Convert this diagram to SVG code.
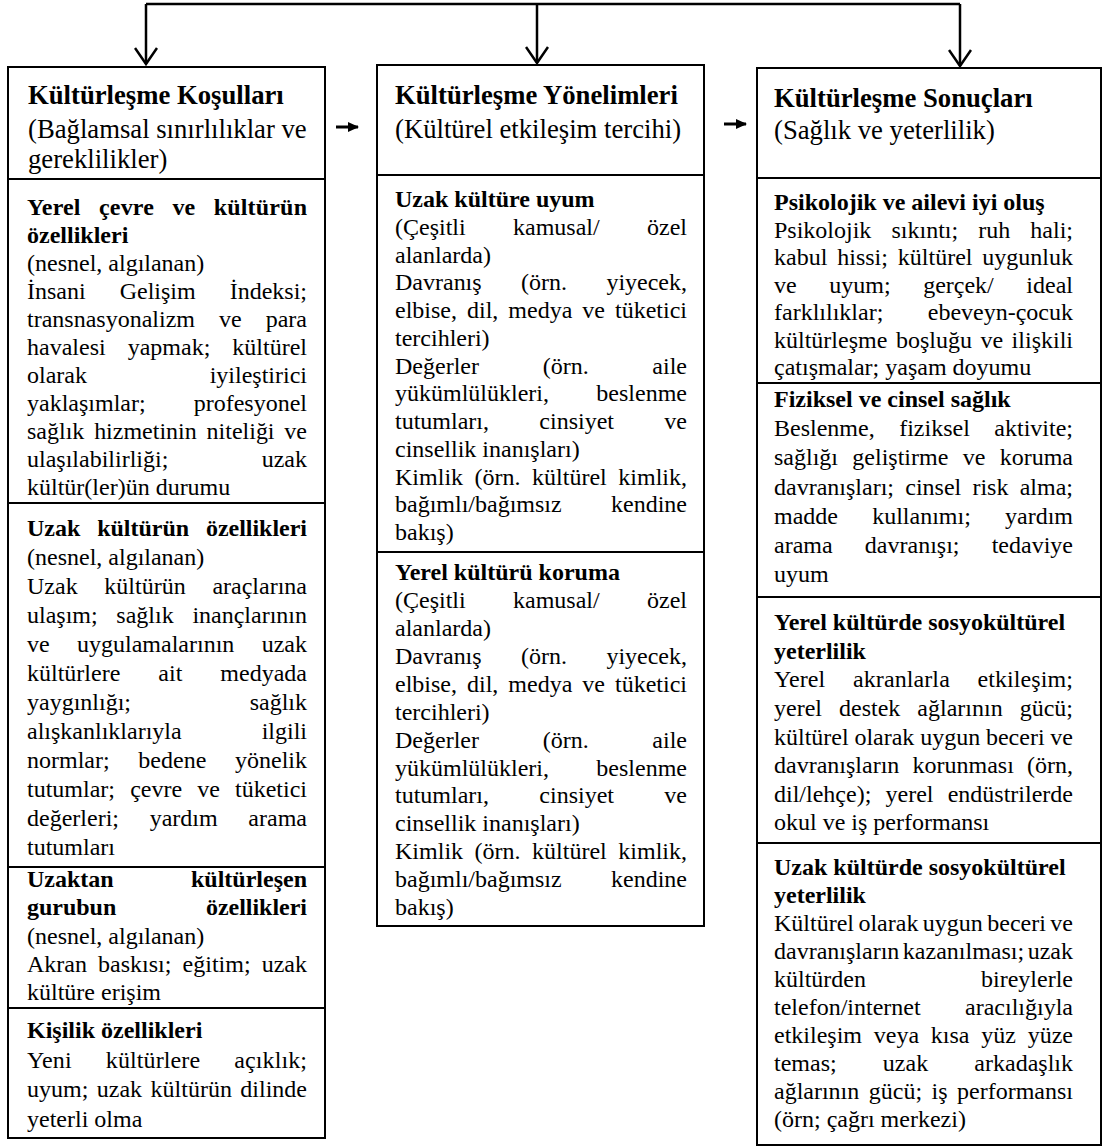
<svg xmlns="http://www.w3.org/2000/svg" width="1105" height="1147" viewBox="0 0 1105 1147">
<style>
text{font-family:"Liberation Serif","Times New Roman",serif;font-size:24px;fill:#000}
.b{font-weight:bold}
.h{font-size:26.7px}
.box{fill:#fff;stroke:#000;stroke-width:2}
.conn{fill:none;stroke:#000;stroke-width:2.5}
.thin{fill:none;stroke:#000;stroke-width:3}
</style>
<defs>
<marker id="vhead" markerUnits="userSpaceOnUse" viewBox="0 0 20 24" refX="17" refY="12" markerWidth="20" markerHeight="24" orient="auto">
<path d="M1,1 L17,12 L1,23" fill="none" stroke="#000" stroke-width="2.5"/>
</marker>
<marker id="fhead" markerUnits="userSpaceOnUse" viewBox="0 0 11 10" refX="10" refY="5" markerWidth="11" markerHeight="10" orient="auto">
<path d="M0,0 L11,5 L0,10 z" fill="#000"/>
</marker>
</defs>
<rect width="1105" height="1147" fill="#fff"/>

<g id="connectors">
<path class="conn" d="M146,4 L960,4"/>
<path class="conn" d="M146,4 L146,64" marker-end="url(#vhead)"/>
<path class="conn" d="M537,4 L537,63" marker-end="url(#vhead)"/>
<path class="conn" d="M960,4 L960,66" marker-end="url(#vhead)"/>
<path class="thin" d="M336,127 L358,127" marker-end="url(#fhead)"/>
<path class="thin" d="M724,124 L746,124" marker-end="url(#fhead)"/>
</g>

<g id="kosullar">
<g id="kosullar-header">
<rect class="box" x="8" y="67" width="317" height="112"/>
<text class="b h" x="28" y="104">Kültürleşme Koşulları</text>
<text class="h" x="28" y="138">(Bağlamsal sınırlılıklar ve</text>
<text class="h" x="28" y="168">gereklilikler)</text>
</g>
<g id="yerel-cevre">
<rect class="box" x="8" y="179" width="317" height="324"/>
<text class="b" x="27" y="215" word-spacing="12.2" textLength="280" lengthAdjust="spacing">Yerel çevre ve kültürün</text>
<text class="b" x="27" y="243">özellikleri</text>
<text x="27" y="271">(nesnel, algılanan)</text>
<text x="27" y="299" word-spacing="28" textLength="280" lengthAdjust="spacing">İnsani Gelişim İndeksi;</text>
<text x="27" y="327" word-spacing="18" textLength="280" lengthAdjust="spacing">transnasyonalizm ve para</text>
<text x="27" y="355" word-spacing="16" textLength="280" lengthAdjust="spacing">havalesi yapmak; kültürel</text>
<text x="27" y="383" word-spacing="116.7" textLength="280" lengthAdjust="spacing">olarak iyileştirici</text>
<text x="27" y="411" word-spacing="42" textLength="280" lengthAdjust="spacing">yaklaşımlar; profesyonel</text>
<text x="27" y="439" word-spacing="3.8" textLength="280" lengthAdjust="spacing">sağlık hizmetinin niteliği ve</text>
<text x="27" y="467" word-spacing="87.3" textLength="280" lengthAdjust="spacing">ulaşılabilirliği; uzak</text>
<text x="27" y="495">kültür(ler)ün durumu</text>
</g>
<g id="uzak-kultur">
<rect class="box" x="8" y="503" width="317" height="364"/>
<text class="b" x="27" y="536" word-spacing="10.9" textLength="280" lengthAdjust="spacing">Uzak kültürün özellikleri</text>
<text x="27" y="565">(nesnel, algılanan)</text>
<text x="27" y="594" word-spacing="20.7" textLength="280" lengthAdjust="spacing">Uzak kültürün araçlarına</text>
<text x="27" y="623" word-spacing="12.7" textLength="280" lengthAdjust="spacing">ulaşım; sağlık inançlarının</text>
<text x="27" y="652" word-spacing="21.4" textLength="280" lengthAdjust="spacing">ve uygulamalarının uzak</text>
<text x="27" y="681" word-spacing="32" textLength="280" lengthAdjust="spacing">kültürlere ait medyada</text>
<text x="27" y="710" word-spacing="112.6" textLength="280" lengthAdjust="spacing">yaygınlığı; sağlık</text>
<text x="27" y="739" word-spacing="74" textLength="280" lengthAdjust="spacing">alışkanlıklarıyla ilgili</text>
<text x="27" y="768" word-spacing="22.7" textLength="280" lengthAdjust="spacing">normlar; bedene yönelik</text>
<text x="27" y="797" word-spacing="9.1" textLength="280" lengthAdjust="spacing">tutumlar; çevre ve tüketici</text>
<text x="27" y="826" word-spacing="24.7" textLength="280" lengthAdjust="spacing">değerleri; yardım arama</text>
<text x="27" y="855">tutumları</text>
</g>
<g id="uzaktan-grup">
<rect class="box" x="8" y="867" width="317" height="141"/>
<text class="b" x="27" y="887" word-spacing="71.3" textLength="280" lengthAdjust="spacing">Uzaktan kültürleşen</text>
<text class="b" x="27" y="915" word-spacing="83.8" textLength="280" lengthAdjust="spacing">gurubun özellikleri</text>
<text x="27" y="944">(nesnel, algılanan)</text>
<text x="27" y="972" word-spacing="5.1" textLength="280" lengthAdjust="spacing">Akran baskısı; eğitim; uzak</text>
<text x="27" y="1000">kültüre erişim</text>
</g>
<g id="kisilik">
<rect class="box" x="8" y="1008" width="317" height="130"/>
<text class="b" x="27" y="1038">Kişilik özellikleri</text>
<text x="27" y="1068" word-spacing="28" textLength="280" lengthAdjust="spacing">Yeni kültürlere açıklık;</text>
<text x="27" y="1097" word-spacing="2.4" textLength="280" lengthAdjust="spacing">uyum; uzak kültürün dilinde</text>
<text x="27" y="1127">yeterli olma</text>
</g>
</g>

<g id="yonelimler">
<g id="yonelimler-header">
<rect class="box" x="377" y="65" width="327" height="110"/>
<text class="b h" x="395" y="104">Kültürleşme Yönelimleri</text>
<text class="h" x="395" y="138">(Kültürel etkileşim tercihi)</text>
</g>
<g id="uzak-uyum">
<rect class="box" x="377" y="175" width="327" height="377"/>
<text class="b" x="395" y="207">Uzak kültüre uyum</text>
<text x="395" y="235" word-spacing="41.3" textLength="292" lengthAdjust="spacing">(Çeşitli kamusal/ özel</text>
<text x="395" y="262.5">alanlarda)</text>
<text x="395" y="290" word-spacing="33.4" textLength="292" lengthAdjust="spacing">Davranış (örn. yiyecek,</text>
<text x="395" y="318" word-spacing="4" textLength="292" lengthAdjust="spacing">elbise, dil, medya ve tüketici</text>
<text x="395" y="346">tercihleri)</text>
<text x="395" y="373.5" word-spacing="57.7" textLength="292" lengthAdjust="spacing">Değerler (örn. aile</text>
<text x="395" y="401" word-spacing="41.3" textLength="292" lengthAdjust="spacing">yükümlülükleri, beslenme</text>
<text x="395" y="429" word-spacing="44.3" textLength="292" lengthAdjust="spacing">tutumları, cinsiyet ve</text>
<text x="395" y="457">cinsellik inanışları)</text>
<text x="395" y="484.5" word-spacing="5.5" textLength="292" lengthAdjust="spacing">Kimlik (örn. kültürel kimlik,</text>
<text x="395" y="512" word-spacing="43.3" textLength="292" lengthAdjust="spacing">bağımlı/bağımsız kendine</text>
<text x="395" y="540">bakış)</text>
</g>
<g id="yerel-koruma">
<rect class="box" x="377" y="552" width="327" height="374"/>
<text class="b" x="395" y="580">Yerel kültürü koruma</text>
<text x="395" y="608" word-spacing="41.3" textLength="292" lengthAdjust="spacing">(Çeşitli kamusal/ özel</text>
<text x="395" y="636">alanlarda)</text>
<text x="395" y="663.5" word-spacing="33.4" textLength="292" lengthAdjust="spacing">Davranış (örn. yiyecek,</text>
<text x="395" y="691.5" word-spacing="4" textLength="292" lengthAdjust="spacing">elbise, dil, medya ve tüketici</text>
<text x="395" y="719.5">tercihleri)</text>
<text x="395" y="747.5" word-spacing="57.7" textLength="292" lengthAdjust="spacing">Değerler (örn. aile</text>
<text x="395" y="775.5" word-spacing="41.3" textLength="292" lengthAdjust="spacing">yükümlülükleri, beslenme</text>
<text x="395" y="803" word-spacing="44.3" textLength="292" lengthAdjust="spacing">tutumları, cinsiyet ve</text>
<text x="395" y="831">cinsellik inanışları)</text>
<text x="395" y="859" word-spacing="5.5" textLength="292" lengthAdjust="spacing">Kimlik (örn. kültürel kimlik,</text>
<text x="395" y="887" word-spacing="43.3" textLength="292" lengthAdjust="spacing">bağımlı/bağımsız kendine</text>
<text x="395" y="915">bakış)</text>
</g>
</g>

<g id="sonuclar">
<g id="sonuclar-header">
<rect class="box" x="757" y="68" width="344" height="110"/>
<text class="b h" x="774" y="107">Kültürleşme Sonuçları</text>
<text class="h" x="774" y="139">(Sağlık ve yeterlilik)</text>
</g>
<g id="psikolojik">
<rect class="box" x="757" y="178" width="344" height="205"/>
<text class="b" x="774" y="210">Psikolojik ve ailevi iyi oluş</text>
<text x="774" y="237.5" word-spacing="14.1" textLength="299" lengthAdjust="spacing">Psikolojik sıkıntı; ruh hali;</text>
<text x="774" y="265" word-spacing="3.9" textLength="299" lengthAdjust="spacing">kabul hissi; kültürel uygunluk</text>
<text x="774" y="292.5" word-spacing="26.6" textLength="299" lengthAdjust="spacing">ve uyum; gerçek/ ideal</text>
<text x="774" y="320" word-spacing="38.4" textLength="299" lengthAdjust="spacing">farklılıklar; ebeveyn-çocuk</text>
<text x="774" y="347.5" word-spacing="2.5" textLength="299" lengthAdjust="spacing">kültürleşme boşluğu ve ilişkili</text>
<text x="774" y="375">çatışmalar; yaşam doyumu</text>
</g>
<g id="fiziksel">
<rect class="box" x="757" y="383" width="344" height="214"/>
<text class="b" x="774" y="407">Fiziksel ve cinsel sağlık</text>
<text x="774" y="436" word-spacing="18.5" textLength="299" lengthAdjust="spacing">Beslenme, fiziksel aktivite;</text>
<text x="774" y="465" word-spacing="8.3" textLength="299" lengthAdjust="spacing">sağlığı geliştirme ve koruma</text>
<text x="774" y="494.5" word-spacing="5.2" textLength="299" lengthAdjust="spacing">davranışları; cinsel risk alma;</text>
<text x="774" y="524" word-spacing="28.2" textLength="299" lengthAdjust="spacing">madde kullanımı; yardım</text>
<text x="774" y="553" word-spacing="26.2" textLength="299" lengthAdjust="spacing">arama davranışı; tedaviye</text>
<text x="774" y="582">uyum</text>
</g>
<g id="yerel-yeterlilik">
<rect class="box" x="757" y="597" width="344" height="246"/>
<text class="b" x="774" y="630">Yerel kültürde sosyokültürel</text>
<text class="b" x="774" y="658.5">yeterlilik</text>
<text x="774" y="687" word-spacing="21.5" textLength="299" lengthAdjust="spacing">Yerel akranlarla etkileşim;</text>
<text x="774" y="716" word-spacing="11" textLength="299" lengthAdjust="spacing">yerel destek ağlarının gücü;</text>
<text x="774" y="744.5" word-spacing="-0.2" textLength="299" lengthAdjust="spacing">kültürel olarak uygun beceri ve</text>
<text x="774" y="773" word-spacing="7.2" textLength="299" lengthAdjust="spacing">davranışların korunması (örn,</text>
<text x="774" y="801.5" word-spacing="8.2" textLength="299" lengthAdjust="spacing">dil/lehçe); yerel endüstrilerde</text>
<text x="774" y="830">okul ve iş performansı</text>
</g>
<g id="uzak-yeterlilik">
<rect class="box" x="757" y="843" width="344" height="302"/>
<text class="b" x="774" y="875">Uzak kültürde sosyokültürel</text>
<text class="b" x="774" y="903">yeterlilik</text>
<text x="774" y="931" word-spacing="-1.6" textLength="299" lengthAdjust="spacing">Kültürel olarak uygun beceri ve</text>
<text x="774" y="959" word-spacing="-2.5" textLength="299" lengthAdjust="spacing">davranışların kazanılması; uzak</text>
<text x="774" y="987" word-spacing="109" textLength="299" lengthAdjust="spacing">kültürden bireylerle</text>
<text x="774" y="1015" word-spacing="38.4" textLength="299" lengthAdjust="spacing">telefon/internet aracılığıyla</text>
<text x="774" y="1043" word-spacing="5.75" textLength="299" lengthAdjust="spacing">etkileşim veya kısa yüz yüze</text>
<text x="774" y="1071" word-spacing="40.2" textLength="299" lengthAdjust="spacing">temas; uzak arkadaşlık</text>
<text x="774" y="1099" word-spacing="3.5" textLength="299" lengthAdjust="spacing">ağlarının gücü; iş performansı</text>
<text x="774" y="1127">(örn; çağrı merkezi)</text>
</g>
</g>
</svg>
